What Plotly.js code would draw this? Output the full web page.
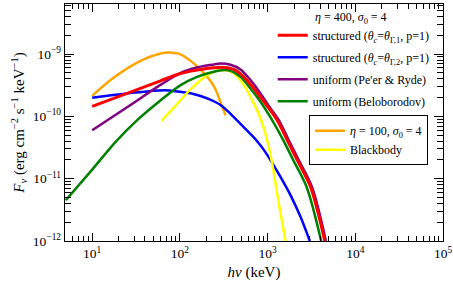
<!DOCTYPE html>
<html>
<head>
<meta charset="utf-8">
<script src="https://cdn.plot.ly/plotly-3.0.1.min.js"></script>
<style>html,body{margin:0;padding:0;background:#fff;}#chart{width:453px;height:284px;}</style>
</head>
<body>
<div id="chart"></div>
<script>
// Photon energy (keV) and flux F_nu (erg cm^-2 s^-1 keV^-1)
const redE    = [10, 25, 60, 102, 157, 244, 317, 412, 535, 697, 906, 1285, 1671, 2177, 3084, 4487];
const redF    = [1.45e-10, 2.34e-10, 3.73e-10, 4.89e-10, 5.53e-10, 6.04e-10, 6.11e-10, 5.68e-10, 4.32e-10, 2.81e-10, 1.72e-10, 8.7e-11, 4.17e-11, 1.99e-11, 7.41e-12, 1.0e-12];

const blueE   = [10, 25, 66, 102, 132, 172, 244, 303, 378, 585, 760, 906, 1127, 1403, 1824, 2373, 3027];
const blueF   = [2.0e-10, 2.34e-10, 2.64e-10, 2.48e-10, 2.35e-10, 2.12e-10, 1.75e-10, 1.46e-10, 1.1e-10, 5.9e-11, 4.0e-11, 2.9e-11, 1.8e-11, 1.07e-11, 5.46e-12, 2.44e-12, 1.0e-12];

const purpleE = [10, 25, 60, 102, 157, 244, 290, 378, 491, 638, 830, 1080, 1343, 1740, 2265, 3200, 4620];
const purpleF = [6.0e-11, 1.4e-10, 3.2e-10, 5.0e-10, 6.1e-10, 6.83e-10, 7.08e-10, 6.74e-10, 5.68e-10, 3.83e-10, 2.34e-10, 1.34e-10, 8.7e-11, 4.17e-11, 1.99e-11, 7.41e-12, 1.0e-12];

const greenE  = [5, 10, 18.5, 32.6, 60, 102, 157, 244, 317, 378, 491, 638, 830, 1127, 1507, 1960, 2780, 4080];
const greenF  = [4.5e-12, 1.4e-11, 3.9e-11, 8.7e-11, 1.8e-10, 3.18e-10, 4.32e-10, 5.2e-10, 5.53e-10, 5.4e-10, 4.32e-10, 2.81e-10, 1.72e-10, 8.7e-11, 4.17e-11, 1.99e-11, 7.41e-12, 1.0e-12];

const orangeE = [10, 16.2, 25.1, 38.7, 60.1, 74.7, 100, 144, 205, 246, 290, 331];
const orangeF = [2.14e-10, 3.83e-10, 5.9e-10, 8.2e-10, 1.02e-9, 1.06e-9, 1.0e-9, 7.1e-10, 4.3e-10, 3.0e-10, 1.71e-10, 1.04e-10];

const yellowE = [61.6, 80, 102, 132, 205, 266, 317, 412, 535, 697, 830, 988, 1127, 1343, 1600];
const yellowF = [8.5e-11, 1.25e-10, 1.83e-10, 2.71e-10, 4.6e-10, 5.4e-10, 5.53e-10, 4.89e-10, 3.18e-10, 1.62e-10, 9.29e-11, 4.17e-11, 1.76e-11, 4.0e-12, 1.0e-12];

const seriesNames = [
  'structured (<i>θ</i><sub><i>c</i></sub>=<i>θ</i><sub>Γ,1</sub>, p=1)',
  'structured (<i>θ</i><sub><i>c</i></sub>=<i>θ</i><sub>Γ,2</sub>, p=1)',
  "uniform (Pe'er &amp; Ryde)",
  'uniform (Beloborodov)',
  '<i>η</i> = 100, <i>σ</i><sub>0</sub> = 4',
  'Blackbody'
];
const legendTitle = '<i>η</i> = 400, <i>σ</i><sub>0</sub> = 4';

const xTickVals = [10, 100, 1000, 10000, 100000];
const xTickText = ['10<sup>1</sup>', '10<sup>2</sup>', '10<sup>3</sup>', '10<sup>4</sup>', '10<sup>5</sup>'];
const yTickVals = [1e-12, 1e-11, 1e-10, 1e-9];
const yTickText = ['10<sup>−12</sup>', '10<sup>−11</sup>', '10<sup>−10</sup>', '10<sup>−9</sup>'];

function minorVals(lo, hi) {
  const out = [];
  for (let e = lo; e <= hi; e++) {
    for (let m = 2; m <= 9; m++) out.push(m * Math.pow(10, e));
  }
  return out;
}

const FONT = 'Liberation Serif, Times New Roman, serif';

function tr(x, y, name, color, width, legend, rank) {
  return {
    x: x, y: y, name: name, type: 'scatter', mode: 'lines',
    line: {color: color, width: width, shape: 'spline', smoothing: 0.9},
    legend: legend, legendrank: rank, legendgroup: 'g' + rank
  };
}

const data = [
  tr(orangeE, orangeF, seriesNames[4], '#ffa500', 2.5, 'legend2', 1),
  tr(blueE, blueF, seriesNames[1], '#0000ff', 2.5, 'legend', 2),
  tr(yellowE, yellowF, seriesNames[5], '#ffff00', 2.5, 'legend2', 2),
  tr(greenE, greenF, seriesNames[3], '#008000', 2.5, 'legend', 4),
  tr(purpleE, purpleF, seriesNames[2], '#800080', 2.5, 'legend', 3),
  tr(redE, redF, seriesNames[0], '#ff0000', 3, 'legend', 1)
];

const layout = {
  width: 453, height: 284,
  margin: {l: 65, r: 10, t: 4, b: 43, pad: 0},
  paper_bgcolor: '#fff', plot_bgcolor: '#fff',
  font: {family: FONT, size: 12, color: '#000'},
  showlegend: true,
  xaxis: {
    type: 'log', range: [0.690, 5],
    showline: true, linecolor: '#000', linewidth: 1.2, mirror: 'allticks',
    ticks: 'inside', ticklen: 8, tickwidth: 1, tickcolor: '#000',
    tickmode: 'array', tickvals: xTickVals, ticktext: xTickText,
    tickfont: {family: FONT, size: 13.5},
    minor: {tickmode: 'array', tickvals: minorVals(0, 4).filter(v => v >= 5), ticks: 'inside', ticklen: 5, tickwidth: 1, tickcolor: '#000'},
    showgrid: false, zeroline: false,
    title: {text: '<i>hν</i> (keV)', font: {family: FONT, size: 15}, standoff: 6}
  },
  yaxis: {
    type: 'log', range: [-12, -8.196],
    showline: true, linecolor: '#000', linewidth: 1.2, mirror: 'allticks',
    ticks: 'inside', ticklen: 9, tickwidth: 1, tickcolor: '#000',
    tickmode: 'array', tickvals: yTickVals, ticktext: yTickText,
    tickfont: {family: FONT, size: 13.5},
    minor: {tickmode: 'array', tickvals: minorVals(-12, -9).filter(v => v < 6.3e-9), ticks: 'inside', ticklen: 6, tickwidth: 1, tickcolor: '#000'},
    showgrid: false, zeroline: false,
    title: {text: '<i>F</i><sub><i>ν</i></sub> (erg cm<sup>−2</sup> s<sup>−1</sup> keV<sup>−1</sup>)', font: {family: FONT, size: 15}, standoff: 4}
  },
  legend: {
    x: 0.5495, y: 0.929, xanchor: 'left', yanchor: 'top',
    bgcolor: 'rgba(0,0,0,0)', borderwidth: 0,
    font: {family: FONT, size: 12},
    traceorder: 'grouped', tracegroupgap: 3
  },
  legend2: {
    x: 0.6455, y: 0.531, xanchor: 'left', yanchor: 'top',
    bgcolor: '#fff', bordercolor: '#000', borderwidth: 1,
    font: {family: FONT, size: 12},
    traceorder: 'grouped', tracegroupgap: 0
  },
  annotations: [{
    text: legendTitle, xref: 'paper', yref: 'paper',
    x: 0.657, y: 0.941, xanchor: 'left', yanchor: 'middle',
    showarrow: false, font: {family: FONT, size: 12}
  }]
};

Plotly.newPlot('chart', data, layout, {staticPlot: true, displayModeBar: false});
</script>
</body>
</html>
